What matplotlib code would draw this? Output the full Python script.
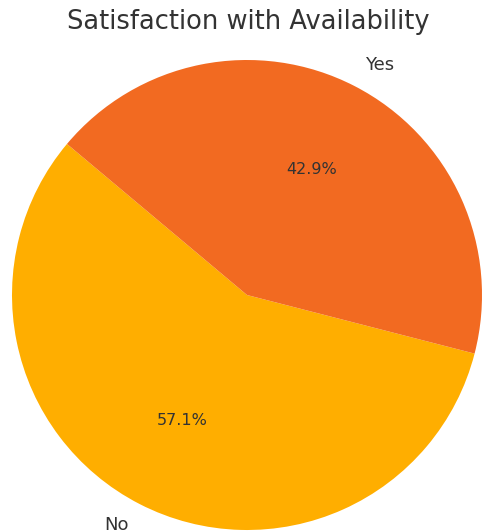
import matplotlib
matplotlib.use('Agg')
import matplotlib.pyplot as plt

labels = ['No', 'Yes']
sizes = [57.1, 42.9]
colors = ['#FFAE00', '#F26A21']
title = 'Satisfaction with Availability'

W, H = 484, 531
cx, cy, r = 247, 295, 235  # pie centre / radius in pixels

fig = plt.figure(figsize=(W / 100, H / 100), dpi=100)
ax = fig.add_axes([0, 0, 1, 1])

wedges, texts, autotexts = ax.pie(sizes, labels=labels, colors=colors, startangle=140,
                                  autopct='%1.1f%%', pctdistance=0.6, labeldistance=1.1,
                                  textprops={'color': '#333333', 'fontsize': 13})
for t in autotexts:
    t.set_fontsize(11.5)

ax.set_xlim(-cx / r, (W - cx) / r)
ax.set_ylim(-(H - cy) / r, cy / r)
ax.set_axis_off()

fig.text(248 / W, 1 - 22 / H, title, ha='center', va='center', fontsize=18.5, color='#333333')

fig.savefig('out.png', dpi=100)
